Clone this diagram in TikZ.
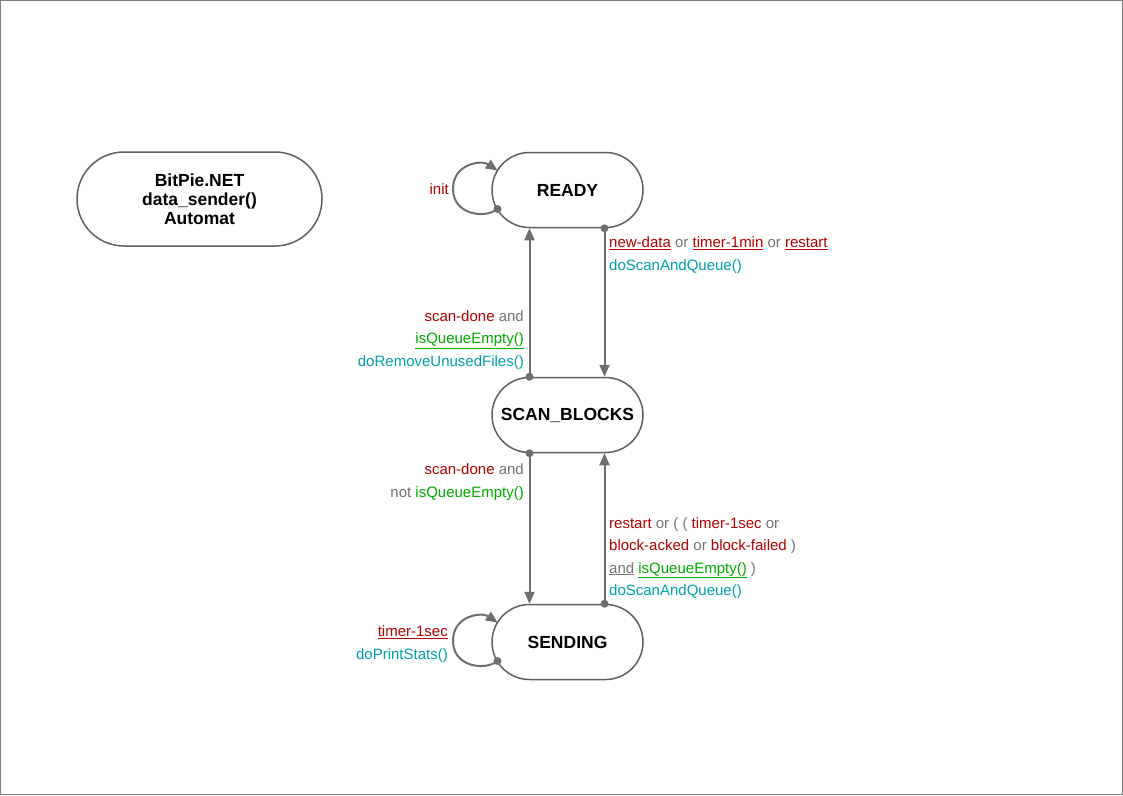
\documentclass[tikz,border=0pt]{standalone}
\usepackage{fontspec}
\setmainfont{Liberation Sans}
\usetikzlibrary{arrows.meta,shapes.misc}
\definecolor{evred}{RGB}{180,0,0}
\definecolor{evgreen}{RGB}{0,170,0}
\definecolor{evcyan}{RGB}{0,160,170}
\definecolor{evgray}{RGB}{115,115,115}
\definecolor{stgray}{RGB}{95,95,95}
\definecolor{argray}{RGB}{110,110,110}
\newcommand\ulc[2]{{\color{#1}\underline{#2}}}
\begin{document}
\begin{tikzpicture}[x=1pt,y=-1pt,
  state/.style={rounded rectangle, draw=stgray, line width=1.5pt, minimum width=151pt, minimum height=75pt, inner sep=0pt, font=\fontsize{17.5}{19}\selectfont\bfseries},
  trans/.style={draw=argray, line width=2pt, -{Triangle[length=12pt,width=10pt]}},
  startdot/.style={fill=argray},
  lbl/.style={inner sep=0pt, font=\fontsize{15}{22.5}\selectfont},
]
\useasboundingbox (0,0) rectangle (1123,795);
\draw[gray, line width=0.8pt] (0.5,0.5) rectangle (1122.5,794.5);

\node[state, minimum width=245pt, minimum height=94pt, align=center] (info) at (199.5,199) {BitPie.NET\\data\_sender()\\Automat};
\node[state] (ready) at (567.5,190) {READY};
\node[state] (scan) at (567.5,415) {SCAN\_BLOCKS};
\node[state] (send) at (567.5,642) {SENDING};

% READY -> SCAN_BLOCKS
\draw[trans] ([xshift=37pt]ready.south) -- ([xshift=37pt]scan.north);
\fill[startdot] ([xshift=37pt]ready.south) circle (4pt);
% SCAN_BLOCKS -> READY
\draw[trans] ([xshift=-38pt]scan.north) -- ([xshift=-38pt]ready.south);
\fill[startdot] ([xshift=-38pt]scan.north) circle (4pt);
% SCAN_BLOCKS -> SENDING
\draw[trans] ([xshift=-38pt]scan.south) -- ([xshift=-38pt]send.north);
\fill[startdot] ([xshift=-38pt]scan.south) circle (4pt);
% SENDING -> SCAN_BLOCKS
\draw[trans] ([xshift=37pt]send.north) -- ([xshift=37pt]scan.south);
\fill[startdot] ([xshift=37pt]send.north) circle (4pt);

% self loops
\draw[trans] ([shift={(-70,19)}]ready.center) .. controls ([shift={(-82.5,29)}]ready.center) and ([shift={(-114.5,25)}]ready.center) .. ([shift={(-114.5,-1)}]ready.center) .. controls ([shift={(-114.5,-27)}]ready.center) and ([shift={(-85.5,-30)}]ready.center) .. ([shift={(-69.7,-19.3)}]ready.center);
\fill[startdot] ([shift={(-70,19)}]ready.center) circle (4pt);

\draw[trans] ([shift={(-70,19)}]send.center) .. controls ([shift={(-82.5,29)}]send.center) and ([shift={(-114.5,25)}]send.center) .. ([shift={(-114.5,-1)}]send.center) .. controls ([shift={(-114.5,-27)}]send.center) and ([shift={(-85.5,-30)}]send.center) .. ([shift={(-69.7,-19.3)}]send.center);
\fill[startdot] ([shift={(-70,19)}]send.center) circle (4pt);

% labels
\node[lbl, anchor=east, text=evred] (linit) at (449,189) {init};
\node[lbl, anchor=west, align=left] (l1) at (609,255) {\ulc{evred}{new-data} \textcolor{evgray}{or} \ulc{evred}{timer-1min} \textcolor{evgray}{or} \ulc{evred}{restart}\\\textcolor{evcyan}{doScanAndQueue()}};
\node[lbl, anchor=east, align=right] (l2) at (524,340) {\textcolor{evred}{scan-done} \textcolor{evgray}{and}\\\ulc{evgreen}{isQueueEmpty()}\\\textcolor{evcyan}{doRemoveUnusedFiles()}};
\node[lbl, anchor=east, align=right] (l3) at (524,482) {\textcolor{evred}{scan-done} \textcolor{evgray}{and}\\\textcolor{evgray}{not} \textcolor{evgreen}{isQueueEmpty()}};
\node[lbl, anchor=west, align=left] (l4) at (609,558) {\textcolor{evred}{restart} \textcolor{evgray}{or ( (} \textcolor{evred}{timer-1sec} \textcolor{evgray}{or}\\\textcolor{evred}{block-acked} \textcolor{evgray}{or} \textcolor{evred}{block-failed} \textcolor{evgray}{)}\\\ulc{evgray}{and} \ulc{evgreen}{isQueueEmpty()} \textcolor{evgray}{)}\\\textcolor{evcyan}{doScanAndQueue()}};
\node[lbl, anchor=east, align=right] (l5) at (448,644) {\ulc{evred}{timer-1sec}\\\textcolor{evcyan}{doPrintStats()}};
\end{tikzpicture}
\end{document}
